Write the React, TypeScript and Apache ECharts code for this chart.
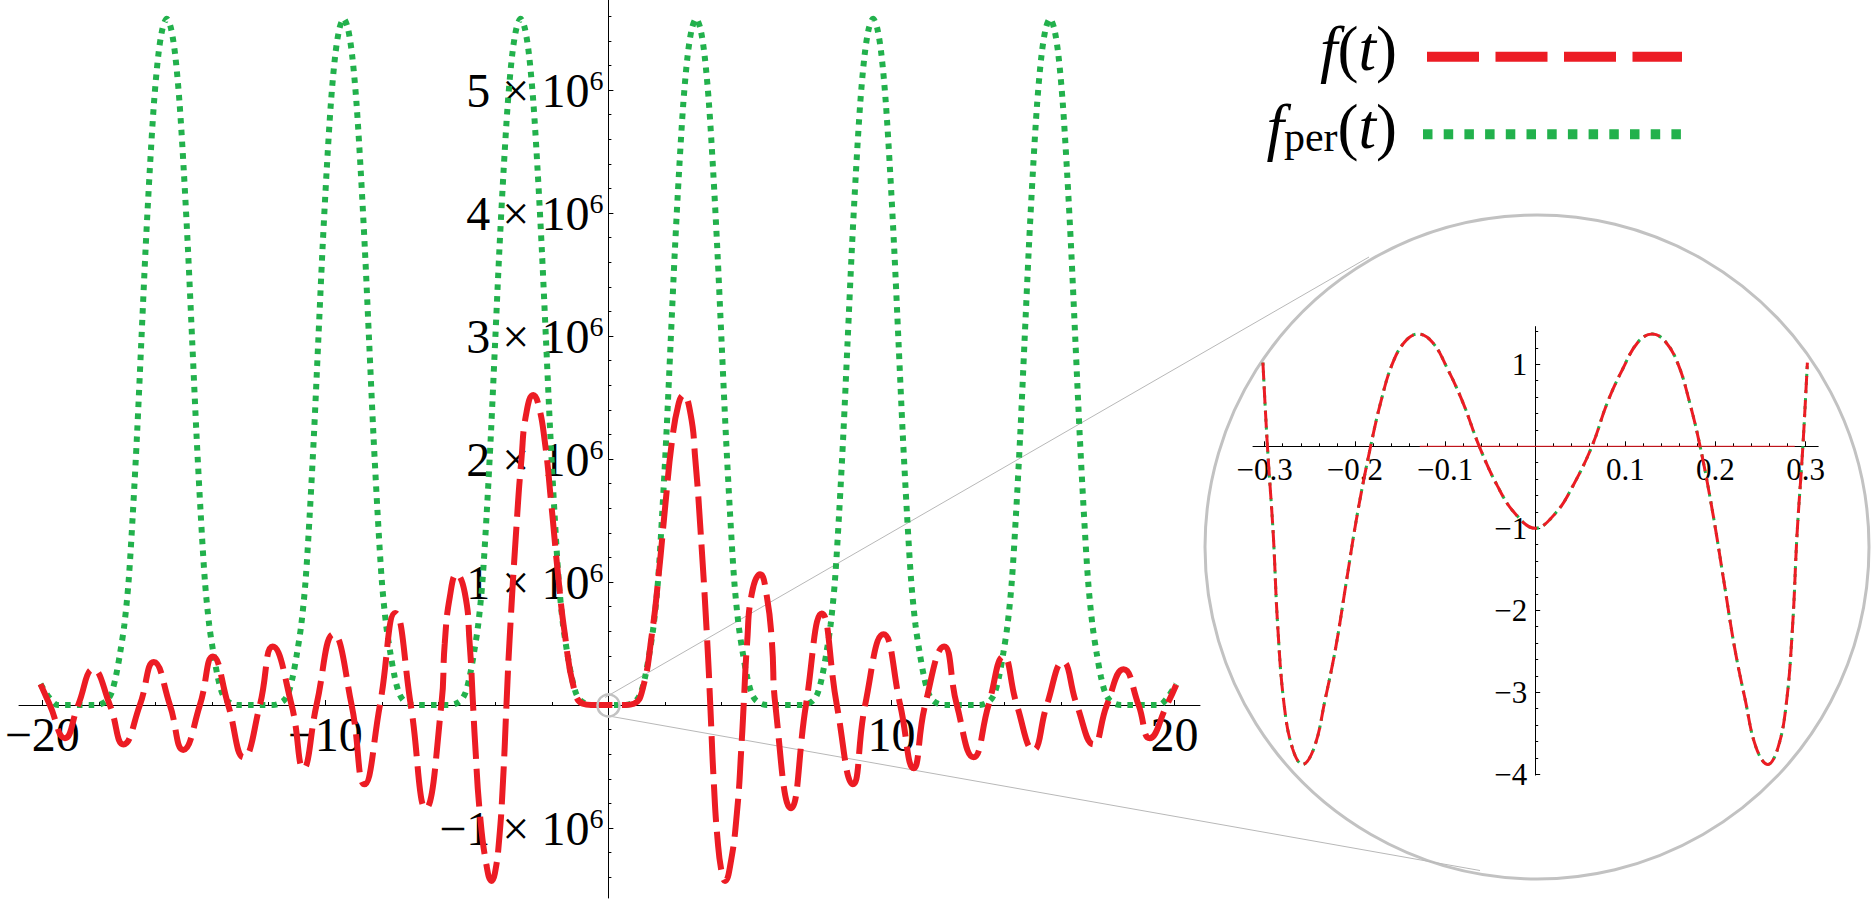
import React, { useEffect, useRef } from 'react';
import * as echarts from 'echarts';

// ---------- data (values of the main plot in units of 10^6) ----------
const xLabelTicks = [-20, -10, 10, 20];
const xMajorTickValues = [-20, -10, 0, 10, 20];
const yLabelTicks = [-1, 1, 2, 3, 4, 5];
const yMajorTickValues = [-1, 0, 1, 2, 3, 4, 5];
const insetXLabelTicks = [-0.3, -0.2, -0.1, 0.1, 0.2, 0.3];
const insetXTickValues = [-0.3, -0.2, -0.1, 0, 0.1, 0.2, 0.3];
const insetYLabelTicks = [-4, -3, -2, -1, 1];
const insetYTickValues = [-4, -3, -2, -1, 0, 1];

// f(t): red dashed curve (t, value ×10^6)
const fData: [number, number][] = [
  [-20.06, 0.17], [-19.73, 0], [-19.2, -0.27], [-18.73, 0], [-18.2, 0.29], [-17.61, 0],
  [-17.13, -0.32], [-16.55, 0], [-16.06, 0.35], [-15.49, 0], [-15.02, -0.365], [-14.43, 0],
  [-13.97, 0.395], [-13.43, 0], [-12.88, -0.425], [-12.31, 0], [-11.86, 0.475], [-11.19, 0],
  [-10.77, -0.515], [-10.31, 0], [-9.71, 0.575], [-9.07, 0], [-8.62, -0.645], [-8.07, 0],
  [-7.53, 0.748], [-6.98, 0], [-6.45, -0.84], [-5.9, 0], [-5.78, 0.5], [-5.6, 0.88],
  [-5.36, 1.063], [-5.07, 0.91], [-4.9, 0.5], [-4.78, 0], [-4.71, -0.3], [-4.54, -0.88],
  [-4.3, -1.31], [-4.12, -1.43], [-4.01, -1.37], [-3.86, -1.1], [-3.72, -0.61], [-3.6, 0],
  [-3.49, 0.53], [-3.25, 1.44], [-3.07, 2.0], [-2.9, 2.37], [-2.65, 2.52], [-2.48, 2.45],
  [-2.25, 2.15], [-2.01, 1.62], [-1.78, 1.065], [-1.54, 0.58], [-1.2, 0.12], [-0.9, 0.01],
  [-0.6, 0], [0, 0],
  [0.6, 0], [0.9, 0.01], [1.2, 0.12], [1.54, 0.58], [1.78, 1.065], [2.01, 1.62], [2.25, 2.15],
  [2.48, 2.45], [2.65, 2.52], [2.9, 2.37], [3.07, 2.0], [3.25, 1.44], [3.49, 0.53], [3.6, 0],
  [3.72, -0.61], [3.86, -1.1], [4.01, -1.37], [4.12, -1.43], [4.3, -1.31], [4.54, -0.88],
  [4.71, -0.3], [4.78, 0], [4.9, 0.5], [5.07, 0.91], [5.36, 1.063], [5.6, 0.88], [5.78, 0.5],
  [5.9, 0], [6.45, -0.84], [6.98, 0], [7.54, 0.745], [8.07, 0], [8.64, -0.645], [9.07, 0],
  [9.72, 0.575], [10.31, 0], [10.78, -0.515], [11.19, 0], [11.86, 0.475], [12.31, 0],
  [12.9, -0.425], [13.43, 0], [13.96, 0.395], [14.43, 0], [15.02, -0.365], [15.49, 0],
  [16.06, 0.35], [16.55, 0], [17.14, -0.32], [17.61, 0], [18.2, 0.29], [18.73, 0],
  [19.12, -0.27], [19.73, 0], [20.06, 0.165],
];

// f_per(t): green dotted curve — identical bumps read at these centres
const fPerPeakCenters = [-15.6, -9.35, -3.1, 3.1, 9.35, 15.6];
// bump shape: [offset from centre, value ×10^6]
const fPerBumpProfile: [number, number][] = [
  [0, 5.58], [0.15, 5.5], [0.3, 5.28], [0.45, 4.9], [0.6, 4.35], [0.75, 3.7], [0.9, 2.95],
  [1.05, 2.2], [1.2, 1.55], [1.35, 1.0], [1.5, 0.65], [1.65, 0.42], [1.8, 0.23], [1.95, 0.1],
  [2.1, 0.04], [2.3, 0.01], [2.5, 0],
];
const fPerEdges: [number, number][] = [
  [-20.06, 0.17], [-19.75, 0.06], [-19.45, 0], [19.45, 0], [19.75, 0.06], [20.06, 0.17],
];

// inset: f(t) near t = 0 (plain units)
const insetData: [number, number][] = [
  [-0.302, 1.02], [-0.297, 0], [-0.2905, -1.08], [-0.2857, -2.17], [-0.2785, -3.15],
  [-0.269, -3.69], [-0.258, -3.88], [-0.245, -3.67], [-0.233, -3.09], [-0.221, -2.44],
  [-0.209, -1.62], [-0.197, -0.81], [-0.1825, 0], [-0.171, 0.55], [-0.159, 0.99],
  [-0.145, 1.27], [-0.13, 1.37], [-0.114, 1.27], [-0.097, 0.94], [-0.08, 0.53], [-0.062, 0],
  [-0.042, -0.48], [-0.023, -0.81], [0, -1.0], [0.023, -0.81], [0.042, -0.48], [0.063, 0],
  [0.08, 0.53], [0.097, 0.94], [0.114, 1.27], [0.13, 1.37], [0.145, 1.27], [0.159, 0.99],
  [0.171, 0.55], [0.183, 0], [0.197, -0.81], [0.209, -1.62], [0.221, -2.44], [0.233, -3.09],
  [0.245, -3.67], [0.258, -3.88], [0.269, -3.69], [0.2785, -3.15], [0.2857, -2.17],
  [0.2905, -1.08], [0.297, 0], [0.302, 1.02],
];
const insetRedAxisSegment: [number, number][] = [[-0.128, 0], [0.288, 0]];

// ---------- styling ----------
const FONT = 'Liberation Serif';
const RED = '#ec1c24';
const GREEN = '#22b14c';
const GREY = '#c2c2c2';

const minus = (s: string) => s.replace('-', '\u2212');

function buildFPer(): [number, number][] {
  const pts: [number, number][] = [];
  for (const c of fPerPeakCenters) {
    for (const [d, v] of fPerBumpProfile) {
      pts.push([c - d, v]);
      if (d > 0) pts.push([c + d, v]);
    }
  }
  for (const p of fPerEdges) pts.push(p);
  pts.sort((a, b) => a[0] - b[0]);
  return pts;
}

export default function App() {
  const ref = useRef<HTMLDivElement>(null);
  useEffect(() => {
    if (!ref.current) return;
    const chart = echarts.init(ref.current, undefined, { renderer: 'svg' });
    const fPerData = buildFPer();

    const axisBlack = { color: '#000', width: 1 };
    const legI = { font: 'italic 63px Liberation Serif', fontFamily: FONT, fontStyle: 'italic', fontSize: 63, lineHeight: 62, fill: '#000' };
    const legN = { font: 'normal 63px Liberation Serif', fontFamily: FONT, fontStyle: 'normal', fontSize: 63, lineHeight: 62, fill: '#000' };

    // main grid: left 19, top 0, 1181 x 898 ; axes cross at (608.4, 705)
    // inset grid: left 1253, top 326.6, 565.2 x 448.5 ; axes cross at (1535.2, 446.3)
    const option: any = {
      animation: false,
      backgroundColor: '#ffffff',
      grid: [
        { left: 19, top: 0, width: 1181, height: 898, containLabel: false, outerBoundsMode: 'none' },
        { left: 1253, top: 326.6, width: 565.2, height: 448.5, containLabel: false, outerBoundsMode: 'none' },
      ],
      xAxis: [
        {
          type: 'value', gridIndex: 0, min: -20.82, max: 20.9, minInterval: 10, maxInterval: 10,
          position: 'bottom', offset: -193,
          axisLine: { show: true, onZero: false, lineStyle: axisBlack },
          axisTick: { show: true, inside: true, length: 5, lineStyle: axisBlack, customValues: xMajorTickValues },
          minorTick: { show: true, splitNumber: 5, length: 3, lineStyle: axisBlack },
          axisLabel: {
            show: true, customValues: xLabelTicks, margin: 5, color: '#000', fontFamily: FONT, fontSize: 48,
            formatter: (v: number) => minus(String(v)),
          },
          splitLine: { show: false }, minorSplitLine: { show: false },
        },
        {
          type: 'value', gridIndex: 1, min: -0.313, max: 0.314, minInterval: 0.1, maxInterval: 0.1,
          position: 'bottom', offset: -328.8,
          axisLine: { show: true, onZero: false, lineStyle: axisBlack },
          axisTick: { show: true, inside: true, length: 5, lineStyle: axisBlack, customValues: insetXTickValues },
          minorTick: { show: true, splitNumber: 5, length: 3, lineStyle: axisBlack },
          axisLabel: {
            show: true, customValues: insetXLabelTicks, margin: 8, color: '#000', fontFamily: FONT, fontSize: 31,
            formatter: (v: number) => minus(v.toFixed(1)),
          },
          splitLine: { show: false }, minorSplitLine: { show: false },
        },
      ],
      yAxis: [
        {
          type: 'value', gridIndex: 0, min: -1.569, max: 5.732, minInterval: 1, maxInterval: 1,
          position: 'left', offset: -589.4,
          axisLine: { show: true, onZero: false, lineStyle: axisBlack },
          axisTick: { show: true, inside: true, length: 5, lineStyle: axisBlack, customValues: yMajorTickValues },
          minorTick: { show: true, splitNumber: 5, length: 3, lineStyle: axisBlack },
          axisLabel: {
            show: true, customValues: yLabelTicks, margin: 5, color: '#000',
            formatter: (v: number) => `{t|${v < 0 ? '\u2212' : ''}${Math.abs(v)} \u00d7 10}{s|6}`,
            rich: {
              t: { fontFamily: FONT, fontSize: 48, lineHeight: 48, color: '#000' },
              s: { fontFamily: FONT, fontSize: 28, lineHeight: 24, color: '#000', verticalAlign: 'top' },
            },
          },
          splitLine: { show: false }, minorSplitLine: { show: false },
        },
        {
          type: 'value', gridIndex: 1, min: -4.01, max: 1.46, minInterval: 1, maxInterval: 1,
          position: 'left', offset: -282.2,
          axisLine: { show: true, onZero: false, lineStyle: axisBlack },
          axisTick: { show: true, inside: true, length: 5, lineStyle: axisBlack, customValues: insetYTickValues },
          minorTick: { show: true, splitNumber: 5, length: 3, lineStyle: axisBlack },
          axisLabel: {
            show: true, customValues: insetYLabelTicks, margin: 8, color: '#000', fontFamily: FONT, fontSize: 31,
            formatter: (v: number) => minus(String(v)),
          },
          splitLine: { show: false }, minorSplitLine: { show: false },
        },
      ],
      series: [
        {
          name: 'f_per(t)', type: 'line', xAxisIndex: 0, yAxisIndex: 0, data: fPerData,
          symbol: 'none', showSymbol: false, smooth: 0.3, z: 3,
          lineStyle: { color: GREEN, width: 6, type: [5.5, 6.2], cap: 'butt' },
        },
        {
          name: 'f(t)', type: 'line', xAxisIndex: 0, yAxisIndex: 0, data: fData,
          symbol: 'none', showSymbol: false, smooth: 0.5, z: 4,
          lineStyle: { color: RED, width: 6, type: [38, 10], cap: 'butt' },
        },
        {
          name: 'inset axis red', type: 'line', xAxisIndex: 1, yAxisIndex: 1, data: insetRedAxisSegment,
          symbol: 'none', showSymbol: false, z: 3,
          lineStyle: { color: RED, width: 1 },
        },
        {
          name: 'inset f_per', type: 'line', xAxisIndex: 1, yAxisIndex: 1, data: insetData,
          symbol: 'none', showSymbol: false, smooth: 0.4, z: 4,
          lineStyle: { color: GREEN, width: 3, type: [3, 5], cap: 'butt' },
        },
        {
          name: 'inset f', type: 'line', xAxisIndex: 1, yAxisIndex: 1, data: insetData,
          symbol: 'none', showSymbol: false, smooth: 0.4, z: 5,
          lineStyle: { color: RED, width: 3, type: [17, 7], cap: 'butt' },
        },
      ],
      graphic: [
        // magnifier: big circle, small circle at origin, tangent lines
        { type: 'circle', z: 1, shape: { cx: 1537, cy: 547, r: 332 }, style: { fill: 'none', stroke: GREY, lineWidth: 3 } },
        { type: 'circle', z: 10, shape: { cx: 608.5, cy: 705.5, r: 11 }, style: { fill: 'none', stroke: GREY, lineWidth: 2.5 } },
        { type: 'line', z: 1, shape: { x1: 605, y1: 697.5, x2: 1369, y2: 257 }, style: { stroke: '#b8b8b8', lineWidth: 1 } },
        { type: 'line', z: 1, shape: { x1: 606, y1: 715.5, x2: 1480, y2: 870.5 }, style: { stroke: '#b8b8b8', lineWidth: 1 } },
        // legend
        {
          type: 'text', z: 10, x: 1397, y: 49,
          style: {
            text: '{i|f}{n|(}{i|t}{n|)}', align: 'right', verticalAlign: 'middle',
            textAlign: 'right', textVerticalAlign: 'middle',
            font: 'italic 63px Liberation Serif',
            rich: { i: legI, n: legN },
          },
        },
        {
          type: 'text', z: 10, x: 1397, y: 127,
          style: {
            text: '{i|f}{s|per}{n|(}{i|t}{n|)}', align: 'right', verticalAlign: 'middle',
            textAlign: 'right', textVerticalAlign: 'middle',
            font: 'italic 63px Liberation Serif',
            rich: {
              i: legI, n: legN,
              s: { font: 'normal 42px Liberation Serif', fontFamily: FONT, fontStyle: 'normal', fontSize: 42, lineHeight: 44, fill: '#000', verticalAlign: 'bottom' },
            },
          },
        },
        { type: 'line', z: 10, shape: { x1: 1427, y1: 56.7, x2: 1682, y2: 56.7 }, style: { stroke: RED, lineWidth: 10, lineDash: [52, 16.5] } },
        { type: 'line', z: 10, shape: { x1: 1423, y1: 134.3, x2: 1689, y2: 134.3 }, style: { stroke: GREEN, lineWidth: 10, lineDash: [9.5, 11.2] } },
      ],
    };
    chart.setOption(option);
    return () => chart.dispose();
  }, []);

  return (
    <div
      ref={ref}
      style={{ position: 'fixed', left: 0, top: 0, width: 1876, height: 912, background: '#fff' }}
    />
  );
}
